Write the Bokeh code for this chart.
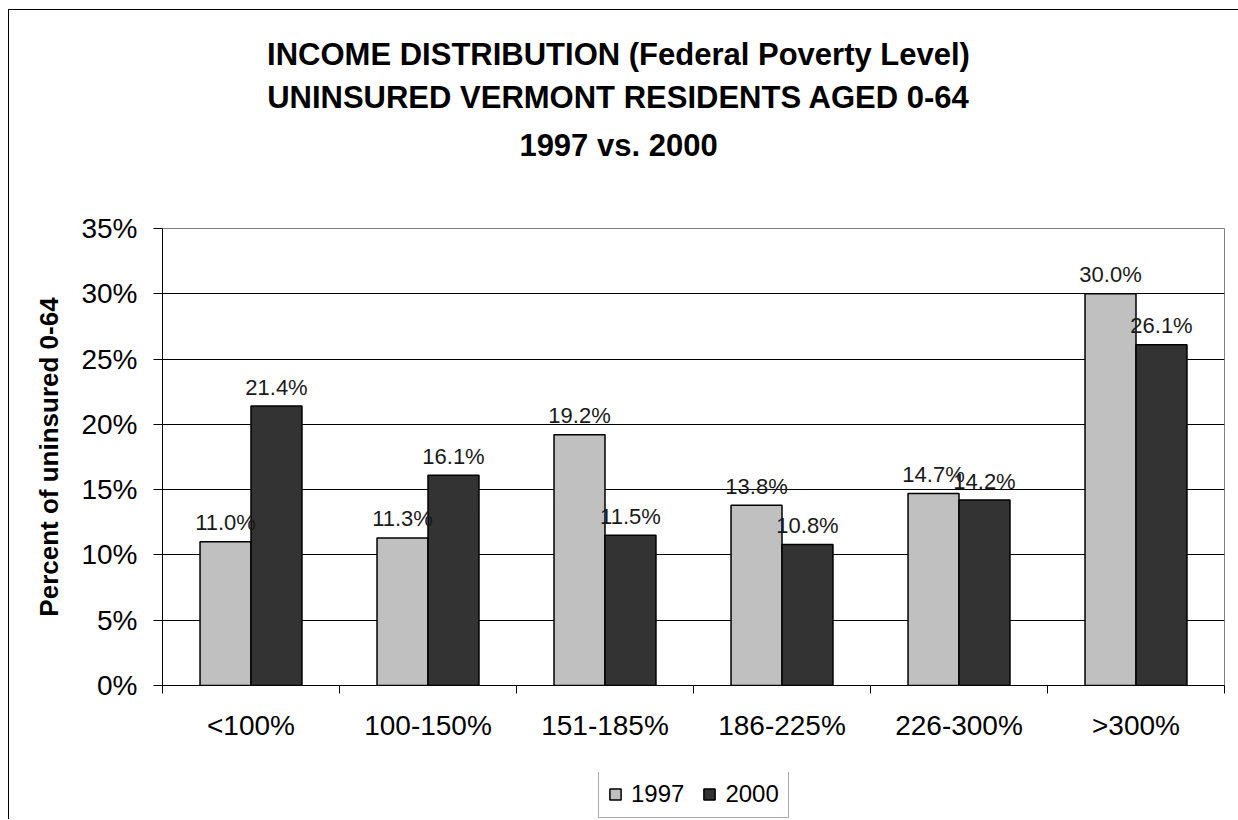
from bokeh.plotting import figure
from bokeh.layouts import column
from bokeh.models import (Range1d, FixedTicker, PrintfTickFormatter, Title,
                          ColumnDataSource, Legend, LegendItem)
from bokeh.core.properties import value
from bokeh.embed import file_html
from bokeh.resources import INLINE

categories = ["<100%", "100-150%", "151-185%", "186-225%", "226-300%", ">300%"]
series_names = ["1997", "2000"]
values_1997 = [11.0, 11.3, 19.2, 13.8, 14.7, 30.0]
values_2000 = [21.4, 16.1, 11.5, 10.8, 14.2, 26.1]
y_ticks = [0, 5, 10, 15, 20, 25, 30, 35]
title_lines = ["INCOME DISTRIBUTION (Federal Poverty Level)",
               "UNINSURED VERMONT RESIDENTS AGED 0-64",
               "1997 vs. 2000"]
y_label = "Percent of uninsured 0-64"
colors = ["#C0C0C0", "#333333"]

SANS = "Liberation Sans"

# Arial/Liberation Sans Bold advance widths (1/1000 em) to center title lines
BOLD_W = {' ': 278, '(': 333, ')': 333, '-': 333, '.': 278,
          'A': 722, 'B': 722, 'C': 722, 'D': 722, 'E': 667, 'F': 611, 'G': 778,
          'I': 278, 'L': 611, 'M': 833, 'N': 722, 'O': 778, 'P': 667, 'R': 722,
          'S': 667, 'T': 611, 'U': 722, 'V': 667,
          'a': 556, 'd': 611, 'e': 556, 'l': 278, 'o': 611, 'r': 389, 's': 556,
          't': 333, 'v': 556, 'y': 556}


def bold_width(s, size):
    return sum(BOLD_W.get(ch, 556) for ch in s) * size / 1000.0


FRAME_LEFT = 153          # canvas px
TITLE_CENTER = 609        # canvas px
TITLE_SIZE = 31
TOTAL_W = 1229

p = figure(frame_width=1062, frame_height=457, output_backend="svg", toolbar_location=None,
           x_range=Range1d(0, len(categories)), y_range=Range1d(0, 35),
           min_border_left=FRAME_LEFT, min_border_right=14, min_border_top=218,
           min_border_bottom=87)

centers = [i + 0.5 for i in range(len(categories))]
bw = 0.288
x97 = [c - bw / 2 for c in centers]
x00 = [c + bw / 2 for c in centers]

src97 = ColumnDataSource(dict(x=x97, top=values_1997, lab=[f"{v:.1f}%" for v in values_1997]))
src00 = ColumnDataSource(dict(x=x00, top=values_2000, lab=[f"{v:.1f}%" for v in values_2000]))

p.vbar(x="x", top="top", width=bw, source=src97, fill_color=colors[0],
       line_color="black", line_width=1.5)
p.vbar(x="x", top="top", width=bw, source=src00, fill_color=colors[1],
       line_color="black", line_width=1.5)

for src in (src97, src00):
    p.text(x="x", y="top", text="lab", source=src, text_align="center",
           text_baseline="alphabetic", y_offset=-19, text_font=value(SANS),
           text_font_size="22px", text_color="#1a1a1a")

# grid / frame
p.xgrid.visible = False
p.ygrid.ticker = FixedTicker(ticks=y_ticks[1:-1])
p.ygrid.grid_line_color = "black"
p.ygrid.grid_line_width = 1
p.outline_line_color = "#808080"
p.outline_line_width = 1
p.background_fill_color = "white"

# y axis
p.yaxis.ticker = FixedTicker(ticks=y_ticks)
p.yaxis.formatter = PrintfTickFormatter(format="%d%%")
p.yaxis.major_label_text_font = SANS
p.yaxis.major_label_text_font_size = "28px"
p.yaxis.major_label_text_color = "black"
p.yaxis.major_tick_out = 9
p.yaxis.major_tick_in = 0
p.yaxis.minor_tick_line_color = None
p.yaxis.major_label_standoff = 16
p.yaxis.axis_line_color = "black"
p.yaxis.major_tick_line_color = "black"
p.yaxis.axis_label = y_label
p.yaxis.axis_label_text_font = SANS
p.yaxis.axis_label_text_font_style = "bold"
p.yaxis.axis_label_text_font_size = "26px"
p.yaxis.axis_label_text_color = "black"
p.yaxis.axis_label_standoff = 14

# x axis
p.xaxis.ticker = FixedTicker(ticks=centers, minor_ticks=list(range(len(categories) + 1)))
p.xaxis.major_label_overrides = {c: lab for c, lab in zip(centers, categories)}
p.xaxis.major_tick_line_color = None
p.xaxis.major_tick_out = 0
p.xaxis.major_tick_in = 0
p.xaxis.minor_tick_line_color = "black"
p.xaxis.minor_tick_out = 8
p.xaxis.minor_tick_in = 0
p.xaxis.axis_line_color = "black"
p.xaxis.major_label_text_font = SANS
p.xaxis.major_label_text_font_size = "28px"
p.xaxis.major_label_text_color = "black"
p.xaxis.major_label_standoff = 16

# titles: nearest to the frame first; a blank spacer keeps the gap to the frame
p.add_layout(Title(text=" ", text_font_size="10px", standoff=48), "above")
standoffs = [1, 11, 10]
for i in reversed(range(len(title_lines))):
    line = title_lines[i]
    off = TITLE_CENTER - bold_width(line, TITLE_SIZE) / 2 - FRAME_LEFT
    p.add_layout(Title(text=line, align="left", offset=off, standoff=standoffs[i],
                       text_font=SANS, text_font_style="bold",
                       text_font_size=f"{TITLE_SIZE}px", text_color="black"), "above")

# legend strip below the chart (its own small canvas, frame aligned with the chart's)
q = figure(width=TOTAL_W, height=47, output_backend="svg", toolbar_location=None,
           x_axis_type=None, y_axis_type=None, x_range=Range1d(0, 1), y_range=Range1d(0, 1),
           min_border=0)
q.outline_line_color = None
q.xgrid.visible = False
q.ygrid.visible = False
q.background_fill_color = "white"
# hidden helper bars so that the legend can draw its swatches
leg_r = []
for c, v in zip(colors, (values_1997, values_2000)):
    r = q.vbar(x=[0.5], top=[v[0]], width=0.1, fill_color=c, line_color="black",
               line_width=1.5)
    r.visible = False
    leg_r.append(r)
lg = Legend(items=[LegendItem(label=n, renderers=[r]) for n, r in zip(series_names, leg_r)],
            orientation="horizontal", location=(436, 1),
            label_text_font=SANS, label_text_font_size="24px", label_text_color="black",
            glyph_width=14, glyph_height=14, label_standoff=9, spacing=18,
            padding=9, margin=0, border_line_color="#555555", border_line_width=1,
            background_fill_color="white", background_fill_alpha=1)
q.add_layout(lg, "center")

layout = column(p, q, spacing=0)
layout.styles = {"margin-left": "8px", "margin-top": "9px",
                 "border-left": "1px solid black", "border-top": "1px solid black"}

open("out.html", "w").write(file_html(layout, INLINE))
